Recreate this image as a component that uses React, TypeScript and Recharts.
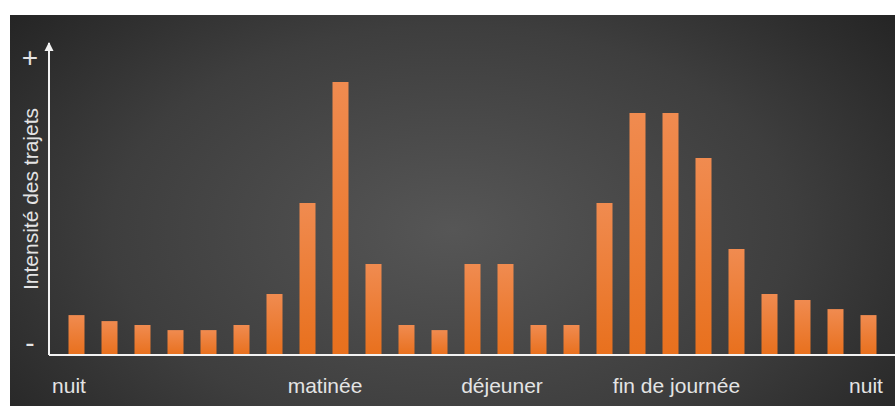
import { BarChart, Bar, XAxis, YAxis } from 'recharts';

// one bar per hour slot, intensity (arbitrary units)
const slots = [
  '0h', '1h', '2h', '3h', '4h', '5h', '6h', '7h', '8h', '9h', '10h', '11h', '12h',
  '13h', '14h', '15h', '16h', '17h', '18h', '19h', '20h', '21h', '22h', '23h', '24h',
];
const intensity = [
  13.3, 11.3, 10, 8.3, 8.3, 10, 20.3, 50.7, 91, 30.3, 10, 8.3, 30.3,
  30.3, 10, 10, 50.7, 80.7, 80.7, 65.7, 35.3, 20.3, 18.3, 15.3, 13.3,
];

const periodLabels = ['nuit', 'matinée', 'déjeuner', 'fin de journée', 'nuit'];
const periodSlots = ['0h', '8h', '13h', '18h', '24h'];

const scaleLabels = ['-', '+'];
const scaleAt = [4.3, 99.3];

const axisTitle = 'Intensité des trajets';

const data = slots.map((slot, i) => ({ slot, value: intensity[i] }));

const FONT = '"Liberation Sans", Arial, sans-serif';
const TEXT = '#e4e4e4';
const LINE = '#f2f2f2';
// small horizontal nudges so the period names sit where the original put them
const LABEL_NUDGE = [-7, -15, -3, 6.5, -2];

const PeriodTick = ({ x, y, payload }: any) => {
  const i = periodSlots.indexOf(payload.value);
  return (
    <text x={x + LABEL_NUDGE[i]} y={y} dy={37} textAnchor="middle" fill={TEXT} fontSize={21} fontFamily={FONT}>
      {periodLabels[i]}
    </text>
  );
};

const ScaleTick = ({ x, y, payload }: any) => {
  const i = scaleAt.indexOf(payload.value);
  return (
    <text x={x - 19} y={y} textAnchor="middle" dominantBaseline="central" fill={TEXT} fontSize={28} fontFamily={FONT}>
      {scaleLabels[i]}
    </text>
  );
};

const AxisArrow = ({ viewBox }: any) => {
  const { x, y, width, height } = viewBox;
  const ax = x + width;
  return (
    <g>
      <polygon points={`${ax},${y - 1} ${ax - 4.5},${y + 8} ${ax + 4.5},${y + 8}`} fill={LINE} />
      <text
        x={x + 20}
        y={y + height / 2}
        transform={`rotate(-90 ${x + 20} ${y + height / 2})`}
        textAnchor="middle"
        dominantBaseline="central"
        fill={TEXT}
        fontSize={21}
        fontFamily={FONT}
      >
        {axisTitle}
      </text>
    </g>
  );
};

export default function App() {
  return (
    <div
      style={{
        position: 'absolute',
        left: 10,
        top: 15,
        width: 885,
        height: 391,
        background: 'radial-gradient(ellipse 70% 95% at 50% 55%, #565656 0%, #3e3e3e 55%, #1f1f1f 100%)',
      }}
    >
      <BarChart width={885} height={391} data={data} margin={{ top: 28, right: 0, bottom: 0, left: 0 }}>
        <defs>
          <linearGradient id="barGrad" x1="0" y1="0" x2="0" y2="1">
            <stop offset="0%" stopColor="#f08b50" />
            <stop offset="100%" stopColor="#e8701d" />
          </linearGradient>
        </defs>
        <XAxis
          dataKey="slot"
          height={1}
          tick={false}
          tickLine={false}
          padding={{ left: 10.5, right: 10.5 }}
          axisLine={{ stroke: LINE, strokeWidth: 2 }}
        />
        <XAxis
          xAxisId="period"
          dataKey="slot"
          ticks={periodSlots}
          interval={0}
          height={50}
          axisLine={false}
          tickLine={false}
          tickSize={0}
          tickMargin={0}
          padding={{ left: 10.5, right: 10.5 }}
          tick={<PeriodTick />}
        />
        <YAxis
          width={39}
          domain={[0, 104]}
          allowDataOverflow
          ticks={scaleAt}
          interval={0}
          tickLine={false}
          tickSize={0}
          tickMargin={0}
          axisLine={{ stroke: LINE, strokeWidth: 2 }}
          tick={<ScaleTick />}
          label={{ content: <AxisArrow /> }}
        />
        <Bar dataKey="value" barSize={16} fill="url(#barGrad)" isAnimationActive={false} />
      </BarChart>
    </div>
  );
}
